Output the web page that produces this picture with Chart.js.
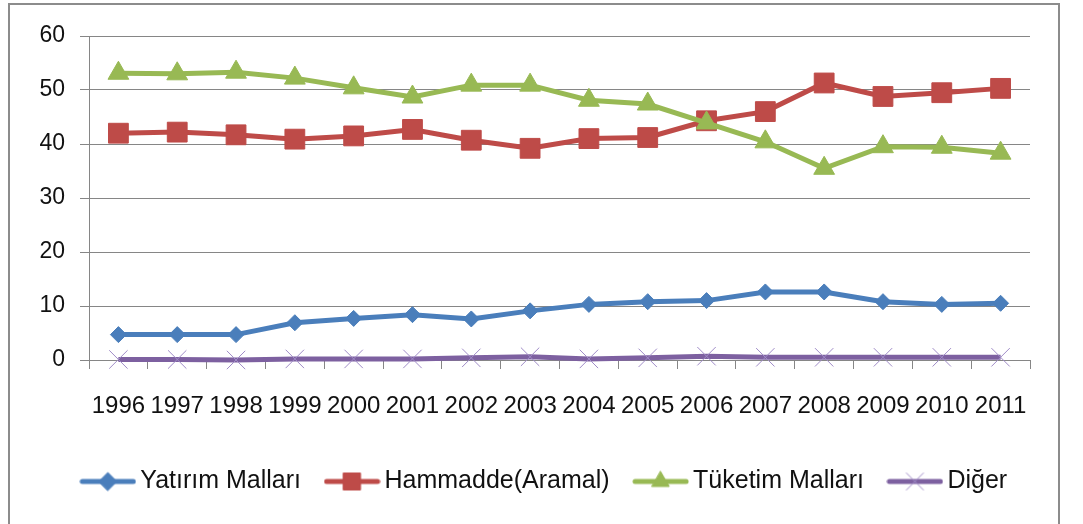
<!DOCTYPE html>
<html>
<head>
<meta charset="utf-8">
<script src="https://cdn.jsdelivr.net/npm/chart.js@4.4.1/dist/chart.umd.min.js"></script>
<style>
  html, body { margin: 0; padding: 0; background: #ffffff; }
  #wrap { width: 1083px; height: 524px; position: relative; }
</style>
</head>
<body>
<div id="wrap"><canvas id="c" width="1083" height="524"></canvas></div>
<script>
const categories = ['1996','1997','1998','1999','2000','2001','2002','2003','2004','2005','2006','2007','2008','2009','2010','2011'];
const seriesNames = ['Yatırım Malları', 'Hammadde(Aramal)', 'Tüketim Malları', 'Diğer'];
const yatirim  = [4.7, 4.7, 4.7, 6.9, 7.7, 8.4, 7.6, 9.1, 10.3, 10.8, 11.0, 12.6, 12.6, 10.8, 10.3, 10.5];
const hammadde = [42.0, 42.2, 41.7, 40.9, 41.5, 42.7, 40.7, 39.2, 41.0, 41.2, 44.3, 46.0, 51.3, 48.8, 49.5, 50.3];
const tuketim  = [53.1, 53.0, 53.3, 52.2, 50.4, 48.7, 50.9, 50.9, 48.1, 47.4, 43.9, 40.4, 35.5, 39.5, 39.4, 38.3];
const diger    = [0.1, 0.1, 0.0, 0.2, 0.2, 0.2, 0.4, 0.6, 0.2, 0.4, 0.7, 0.5, 0.5, 0.5, 0.5, 0.5];
const yTicks   = [0, 10, 20, 30, 40, 50, 60];

const FONT = "'Liberation Sans', Arial, sans-serif";
const colors = ['#4A7EBB', '#BE4B48', '#98B954', '#7D60A0'];
const styles = [
  {pointStyle: 'rectRot', radius: 8, fill: colors[0], stroke: colors[0], bw: 1},
  {pointStyle: 'rect', radius: 14, fill: colors[1], stroke: colors[1], bw: 1},
  {pointStyle: 'triangle', radius: 12, fill: colors[2], stroke: colors[2], bw: 1},
  {pointStyle: 'crossRot', radius: 13, fill: 'rgba(0,0,0,0)', stroke: '#A08CC8', bw: 1}
];
const legendStyles = [
  {pointStyle: 'rectRot', radius: 9},
  {pointStyle: 'rect', radius: 12},
  {pointStyle: 'triangle', radius: 10},
  {pointStyle: 'crossRot', radius: 12}
];

function makeLegendImage(i) {
  const cv = document.createElement('canvas');
  cv.width = 57; cv.height = 24;
  const ctx = cv.getContext('2d');
  ctx.strokeStyle = colors[i];
  ctx.lineWidth = 5;
  ctx.lineCap = 'round';
  ctx.beginPath();
  ctx.moveTo(3, 12); ctx.lineTo(54, 12);
  ctx.stroke();
  ctx.fillStyle = styles[i].fill;
  ctx.strokeStyle = styles[i].stroke;
  ctx.lineWidth = 1;
  Chart.helpers.drawPoint(ctx, {pointStyle: legendStyles[i].pointStyle, radius: legendStyles[i].radius, rotation: 0, borderWidth: 1}, 28.5, 12);
  return cv;
}
const legendImgs = [0,1,2,3].map(makeLegendImage);

const seriesData = [yatirim, hammadde, tuketim, diger];
const datasets = seriesData.map((d, i) => ({
  label: seriesNames[i],
  data: d,
  borderColor: colors[i],
  backgroundColor: styles[i].fill,
  borderWidth: 5,
  pointStyle: styles[i].pointStyle,
  pointRadius: styles[i].radius,
  pointHoverRadius: styles[i].radius,
  pointBackgroundColor: styles[i].fill,
  pointBorderColor: styles[i].stroke,
  pointBorderWidth: styles[i].bw,
  tension: 0,
  clip: false,
  order: 4 - i
}));

const frame = {
  id: 'frame',
  beforeDraw(chart) {
    const ctx = chart.ctx;
    ctx.save();
    ctx.fillStyle = '#ffffff';
    ctx.fillRect(0, 0, chart.width, chart.height);
    ctx.strokeStyle = '#8C8C8C';
    ctx.lineWidth = 2;
    ctx.strokeRect(9, 4, 1050, 530);
    ctx.restore();
  }
};

new Chart(document.getElementById('c'), {
  type: 'line',
  data: { labels: categories, datasets },
  plugins: [frame],
  options: {
    responsive: false,
    animation: false,
    devicePixelRatio: 1,
    layout: { padding: { left: 12, top: 36, right: 0, bottom: 20 } },
    plugins: {
      tooltip: { enabled: false },
      legend: {
        position: 'bottom',
        labels: {
          usePointStyle: true,
          pointStyleWidth: 40,
          boxHeight: 25,
          padding: 31,
          color: '#111111',
          font: { family: FONT, size: 25 },
          generateLabels(chart) {
            const items = Chart.defaults.plugins.legend.labels.generateLabels(chart);
            items.sort((a, b) => a.datasetIndex - b.datasetIndex);
            items.forEach(it => { it.pointStyle = legendImgs[it.datasetIndex]; });
            return items;
          }
        }
      }
    },
    scales: {
      x: {
        offset: true,
        grid: { offset: true, drawOnChartArea: false, drawTicks: true, tickLength: 9, color: '#868686', lineWidth: 1 },
        border: { display: true, color: '#868686', width: 1 },
        ticks: { autoSkip: false, maxRotation: 0, minRotation: 0, padding: 23, color: '#111111', font: { family: FONT, size: 24 } },
        afterFit(scale) { scale.height = 78; }
      },
      y: {
        min: 0, max: 60,
        afterBuildTicks(scale) { scale.ticks = yTicks.map(v => ({ value: v })); },
        grid: { color: '#868686', lineWidth: 1, tickLength: 9, drawTicks: true },
        border: { display: true, color: '#868686', width: 1 },
        ticks: { padding: 15, color: '#111111', font: { family: FONT, size: 23 } },
        afterFit(scale) { scale.width = 77; }
      },
      yr: {
        position: 'right',
        display: true,
        grid: { display: false, drawTicks: false },
        border: { display: false },
        ticks: { display: false },
        afterFit(scale) { scale.width = 53; }
      }
    }
  }
});
</script>
</body>
</html>
